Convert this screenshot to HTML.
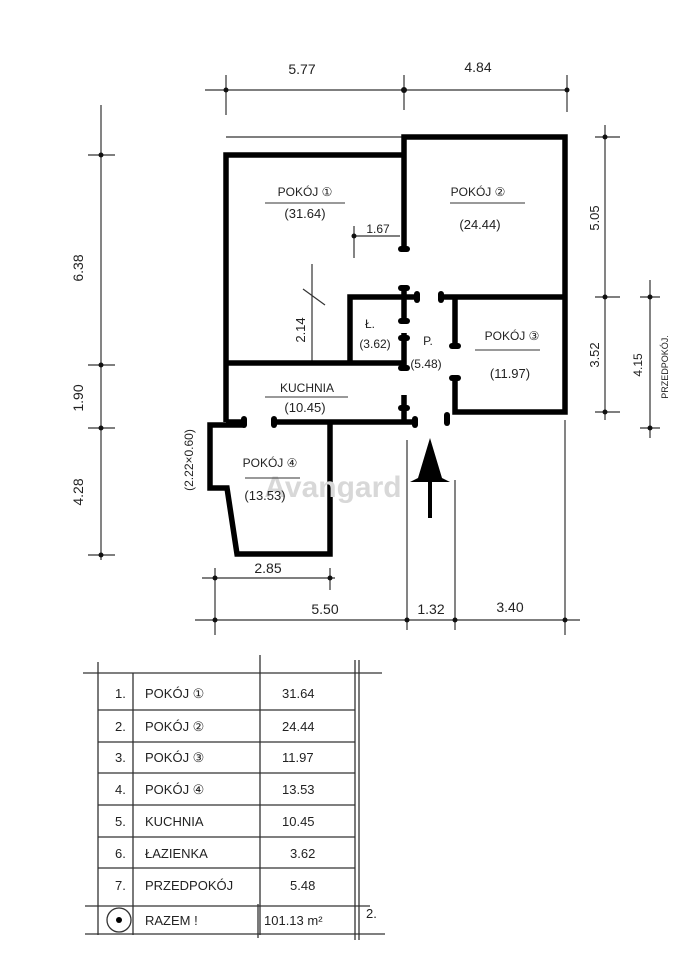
<!DOCTYPE html>
<html><head><meta charset="utf-8"><style>
html,body{margin:0;padding:0;background:#fff;}
svg{display:block;}
text{font-family:"Liberation Sans",sans-serif;fill:#222;}
</style></head><body>
<svg width="679" height="960" viewBox="0 0 679 960" xmlns="http://www.w3.org/2000/svg">
<rect width="679" height="960" fill="#fff"/>
<g stroke="#333" stroke-width="1.2" fill="none">
<line x1="205" y1="90" x2="565" y2="90"/>
<line x1="226" y1="75" x2="226" y2="115"/><line x1="404" y1="75" x2="404" y2="110"/><line x1="567" y1="75" x2="567" y2="112"/>
<line x1="226" y1="137" x2="560" y2="137"/>
<line x1="101" y1="105" x2="101" y2="560"/>
<line x1="88" y1="155" x2="115" y2="155"/><line x1="88" y1="365" x2="115" y2="365"/><line x1="88" y1="428" x2="115" y2="428"/><line x1="88" y1="555" x2="115" y2="555"/>
<line x1="202" y1="578" x2="335" y2="578"/>
<line x1="215" y1="568" x2="215" y2="635"/><line x1="330" y1="568" x2="330" y2="590"/>
<line x1="195" y1="620" x2="580" y2="620"/>
<line x1="407" y1="440" x2="407" y2="630"/><line x1="455" y1="480" x2="455" y2="630"/><line x1="565" y1="420" x2="565" y2="635"/>
<line x1="605" y1="125" x2="605" y2="420"/>
<line x1="595" y1="137" x2="620" y2="137"/><line x1="595" y1="297" x2="620" y2="297"/><line x1="595" y1="412" x2="620" y2="412"/>
<line x1="650" y1="280" x2="650" y2="438"/>
<line x1="640" y1="297" x2="660" y2="297"/><line x1="640" y1="428" x2="660" y2="428"/>
<line x1="355" y1="236" x2="400" y2="236"/><line x1="354" y1="226" x2="354" y2="258"/>
<line x1="312" y1="264" x2="312" y2="365"/><line x1="303" y1="289" x2="325" y2="305"/>
</g>
<g fill="#111">
<circle cx="226" cy="90" r="2.5"/><circle cx="404" cy="90" r="3"/><circle cx="567" cy="90" r="2.5"/>
<circle cx="101" cy="155" r="2.5"/><circle cx="101" cy="365" r="2.5"/><circle cx="101" cy="428" r="2.5"/><circle cx="101" cy="555" r="2.5"/>
<circle cx="215" cy="578" r="2.5"/><circle cx="330" cy="578" r="2.5"/>
<circle cx="215" cy="620" r="2.5"/><circle cx="407" cy="620" r="2.5"/><circle cx="455" cy="620" r="2.5"/><circle cx="565" cy="620" r="2.5"/>
<circle cx="605" cy="137" r="2.5"/><circle cx="605" cy="297" r="2.5"/><circle cx="605" cy="412" r="2.5"/>
<circle cx="650" cy="297" r="2.5"/><circle cx="650" cy="428" r="2.5"/>
<circle cx="354" cy="236" r="2.5"/>
</g>
<g stroke="#000" stroke-width="5.5" fill="none" stroke-linejoin="miter">
<polyline points="404,250 404,137 565,137 565,412 455,412 455,380"/>
<polyline points="404,155 226,155 226,422"/>
<line x1="455" y1="297" x2="565" y2="297"/>
<line x1="455" y1="297" x2="455" y2="345"/>
<polyline points="350,363 350,297 404,297"/>
<line x1="226" y1="363" x2="404" y2="363"/>
<line x1="404" y1="333" x2="404" y2="370"/>
<line x1="404" y1="395" x2="404" y2="422"/>
<line x1="404" y1="285" x2="404" y2="322"/>
<line x1="226" y1="422" x2="244" y2="422"/>
<line x1="273" y1="422" x2="414" y2="422"/>
<polyline points="244,425 210,425 210,488 227,488 237,554 330,554 330,422"/>
<line x1="404" y1="297" x2="420" y2="297"/>
<line x1="438" y1="297" x2="455" y2="297"/>
</g>
<g fill="#000">
<rect x="398" y="246" width="12" height="6" rx="3"/>
<rect x="398" y="285" width="12" height="6" rx="3"/><rect x="398" y="318" width="12" height="6" rx="3"/>
<rect x="398" y="335" width="12" height="6" rx="3"/><rect x="398" y="365" width="12" height="6" rx="3"/>
<rect x="398" y="405" width="12" height="6" rx="3"/>
<rect x="414" y="291" width="6" height="12" rx="3"/><rect x="438" y="291" width="6" height="12" rx="3"/>
<rect x="449" y="343" width="12" height="6" rx="3"/><rect x="449" y="375" width="12" height="6" rx="3"/>
<rect x="241" y="416" width="6" height="12" rx="3"/><rect x="271" y="416" width="6" height="12" rx="3"/>
<rect x="412" y="416" width="6" height="12" rx="3"/><rect x="444" y="412" width="6" height="14" rx="3"/>
</g>
<line x1="430" y1="470" x2="430" y2="518" stroke="#000" stroke-width="4"/>
<polygon points="430,438 418,478 410,482 450,482 442,478" fill="#000"/>
<text x="333" y="497" font-size="30" style="fill:#d8d8d8" text-anchor="middle" font-weight="bold">Avangard</text>
<g font-size="12" text-anchor="middle">
<text x="305" y="196">POKÓJ ①</text><line x1="265" y1="203" x2="345" y2="203" stroke="#333"/>
<text x="305" y="218" font-size="13">(31.64)</text>
<text x="478" y="196">POKÓJ ②</text><line x1="450" y1="203" x2="525" y2="203" stroke="#333"/>
<text x="480" y="229" font-size="13">(24.44)</text>
<text x="512" y="340">POKÓJ ③</text><line x1="475" y1="350" x2="540" y2="350" stroke="#333"/>
<text x="510" y="378" font-size="13">(11.97)</text>
<text x="270" y="467">POKÓJ ④</text><line x1="245" y1="478" x2="300" y2="478" stroke="#333"/>
<text x="265" y="500" font-size="13">(13.53)</text>
<text x="307" y="392">KUCHNIA</text><line x1="265" y1="397" x2="348" y2="397" stroke="#333"/>
<text x="305" y="412" font-size="13">(10.45)</text>
<text x="370" y="328">Ł.</text><text x="375" y="348">(3.62)</text>
<text x="428" y="345">P.</text><text x="426" y="368">(5.48)</text>
<text x="378" y="233">1.67</text>
</g>
<g font-size="14" text-anchor="middle">
<text x="302" y="74">5.77</text><text x="478" y="72">4.84</text>
<text x="268" y="573">2.85</text>
<text x="325" y="614">5.50</text><text x="431" y="614">1.32</text><text x="510" y="612">3.40</text>
<text transform="translate(83,268) rotate(-90)">6.38</text>
<text transform="translate(83,398) rotate(-90)">1.90</text>
<text transform="translate(83,492) rotate(-90)">4.28</text>
<text transform="translate(305,330) rotate(-90)" font-size="13">2.14</text>
<text transform="translate(193,460) rotate(-90)" font-size="12">(2.22×0.60)</text>
<text transform="translate(599,218) rotate(-90)" font-size="13">5.05</text>
<text transform="translate(599,355) rotate(-90)" font-size="13">3.52</text>
<text transform="translate(642,365) rotate(-90)" font-size="12">4.15</text>
<text transform="translate(668,367) rotate(-90)" font-size="9">PRZEDPOKÓJ.</text>
</g>
<g stroke="#333" stroke-width="1.3" fill="none">
<line x1="83" y1="673" x2="382" y2="673"/>
<line x1="98" y1="662" x2="98" y2="935"/><line x1="133" y1="673" x2="133" y2="935"/>
<line x1="260" y1="655" x2="260" y2="935"/><line x1="355" y1="660" x2="355" y2="940"/><line x1="359" y1="660" x2="359" y2="940"/>
<line x1="98" y1="710" x2="355" y2="710"/><line x1="98" y1="742" x2="355" y2="742"/><line x1="98" y1="773" x2="355" y2="773"/>
<line x1="98" y1="805" x2="355" y2="805"/><line x1="98" y1="837" x2="355" y2="837"/><line x1="98" y1="868" x2="355" y2="868"/>
<line x1="85" y1="906" x2="370" y2="906"/><line x1="85" y1="934" x2="385" y2="934"/>
<line x1="258" y1="904" x2="258" y2="938"/>
<circle cx="119" cy="920" r="12"/>
</g>
<circle cx="119" cy="920" r="3" fill="#000"/>
<g font-size="13">
<text x="115" y="698">1.</text><text x="145" y="698">POKÓJ ①</text><text x="282" y="698">31.64</text>
<text x="115" y="731">2.</text><text x="145" y="731">POKÓJ ②</text><text x="282" y="731">24.44</text>
<text x="115" y="762">3.</text><text x="145" y="762">POKÓJ ③</text><text x="282" y="762">11.97</text>
<text x="115" y="794">4.</text><text x="145" y="794">POKÓJ ④</text><text x="282" y="794">13.53</text>
<text x="115" y="826">5.</text><text x="145" y="826">KUCHNIA</text><text x="282" y="826">10.45</text>
<text x="115" y="858">6.</text><text x="145" y="858">ŁAZIENKA</text><text x="290" y="858">3.62</text>
<text x="115" y="890">7.</text><text x="145" y="890">PRZEDPOKÓJ</text><text x="290" y="890">5.48</text>
<text x="145" y="925">RAZEM !</text><text x="264" y="925">101.13 m²</text><text x="366" y="918">2.</text>
</g>
</svg>
</body></html>
